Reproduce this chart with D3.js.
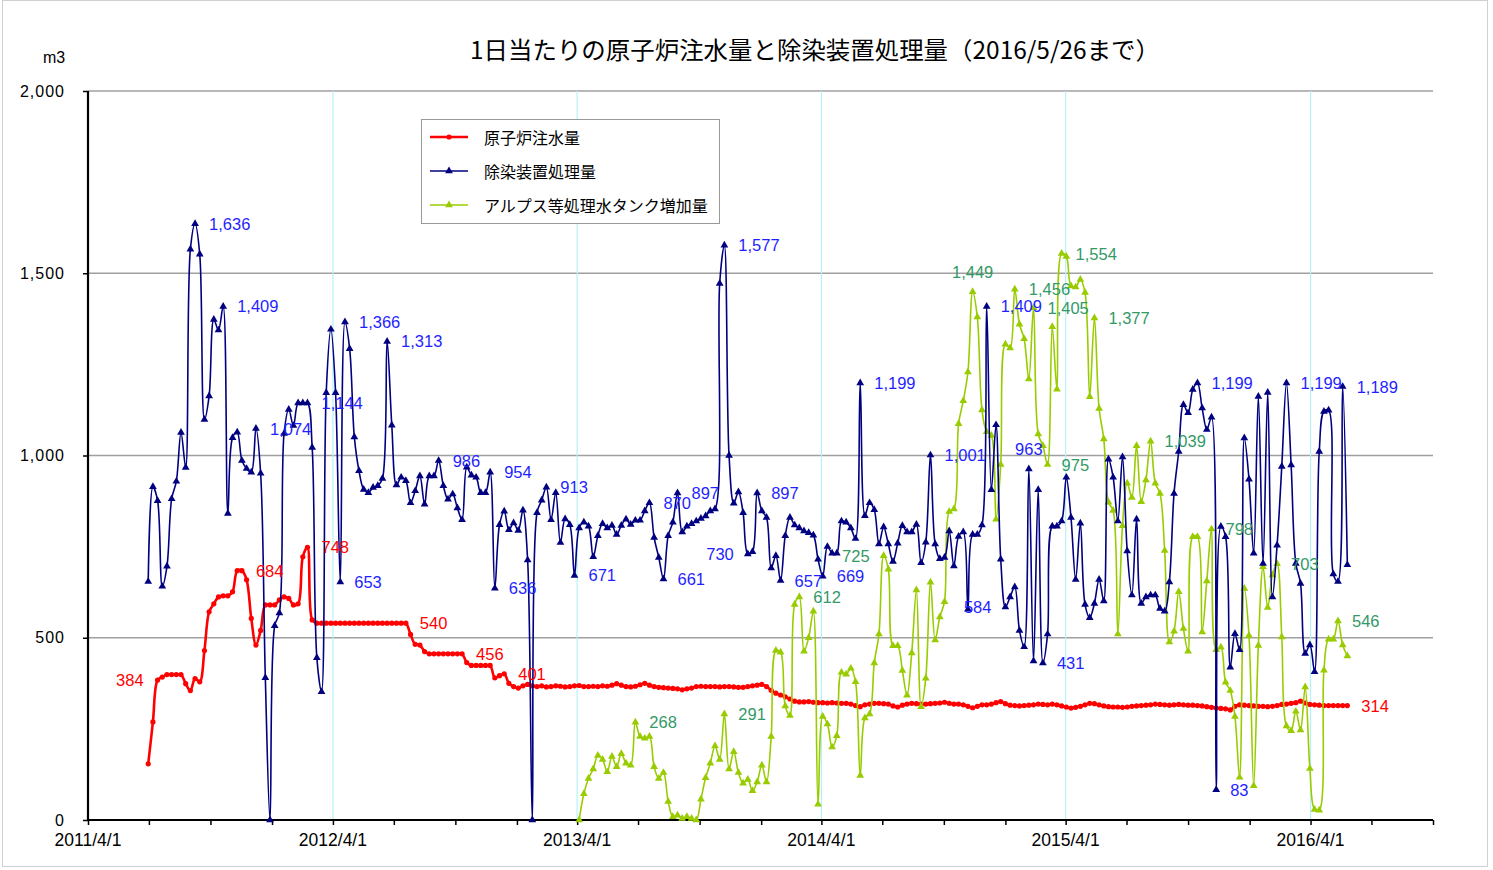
<!DOCTYPE html>
<html><head><meta charset="utf-8">
<script src="https://cdn.jsdelivr.net/npm/d3@7"></script>
<style>body{margin:0;background:#fff}svg{display:block}</style>
</head><body><svg id="c" width="1493" height="870"></svg>
<script>
// ---------- data ----------
const titleText = "1日当たりの原子炉注水量と除染装置処理量（2016/5/26まで）";
const unitLabel = "m3";
const seriesNames = ["原子炉注水量", "除染装置処理量", "アルプス等処理水タンク増加量"];
const firstDate = new Date(2011, 5, 30);   // weekly observations from 2011/6/30
const alpsStartIndex = 92;                  // ALPS series starts at week 92 (2013/4)
const yTickValues = [0, 500, 1000, 1500, 2000];
const xYearTicks = ["2011/4/1", "2012/4/1", "2013/4/1", "2014/4/1", "2015/4/1", "2016/4/1"];

const waterInjection = [
154,269,384,392,399,399,399,399,374,355,
388,379,465,571,593,612,615,615,626,684,
684,659,553,480,520,590,590,590,604,612,
608,590,593,722,748,549,540,540,540,540,
540,540,540,540,540,540,540,540,540,540,
540,540,540,540,540,540,509,482,480,462,
456,456,456,456,456,456,456,456,432,424,
424,424,424,424,390,396,401,375,366,362,
368,372,368,366,368,365,366,368,367,365,
366,368,369,366,366,367,366,368,367,370,
374,370,366,365,367,371,375,370,366,364,
363,362,361,360,357,360,362,366,367,366,
366,366,365,366,366,365,364,364,366,368,
370,372,366,356,348,343,338,332,326,324,
324,325,323,322,322,321,322,321,320,320,
318,314,311,316,318,320,320,319,318,313,
310,315,318,320,319,318,318,319,320,321,
323,320,318,318,316,312,308,312,316,316,
318,322,325,319,315,314,313,314,315,316,
318,317,316,318,316,313,310,307,309,312,
316,320,319,316,313,311,310,310,309,310,
312,313,314,315,316,318,317,316,315,316,
317,316,315,315,314,313,311,309,307,306,
305,302,312,316,315,314,313,312,312,311,
312,314,317,318,320,322,326,321,317,316,
315,314,314,314,314,314,314];

const decontamination = [
654,914,876,641,696,881,929,1063,967,1566,
1636,1552,1099,1163,1373,1344,1409,841,1049,1064,
986,964,954,1074,951,390,0,533,568,1060,
1126,1082,1144,1144,1144,1022,445,352,1172,1346,
1172,653,1366,1293,1051,958,907,898,912,917,
937,1313,1083,919,940,931,870,903,944,866,
944,944,986,917,880,894,856,824,968,946,
940,898,898,954,636,810,847,796,815,794,
850,713,0,843,877,913,824,898,761,826,
810,671,801,817,806,722,780,813,801,808,
783,808,825,811,822,822,848,870,775,720,
661,780,817,897,790,806,813,820,827,834,
848,853,1472,1577,1000,869,900,843,730,736,
897,848,830,691,725,657,780,830,809,801,
793,788,781,715,669,750,732,732,820,817,
801,772,1199,835,870,851,757,804,757,709,
759,807,790,790,811,706,762,1001,757,717,
720,793,697,778,790,578,783,783,809,1409,
906,1084,715,584,612,639,520,475,963,436,
906,431,510,806,806,820,940,830,660,814,
591,555,594,660,601,990,940,820,996,738,
617,825,594,612,617,617,580,573,653,896,
1011,1139,1117,1181,1199,1130,1071,1105,83,805,
777,419,511,467,1048,935,732,1162,704,1173,
612,754,970,1199,974,704,649,457,480,407,
1011,1121,1124,675,654,1189,700];

const alpsTankIncrease = [
0,72,114,140,177,166,132,174,146,182,
156,150,268,229,224,229,146,114,130,51,
9,13,4,9,4,0,57,116,156,203,
166,291,140,187,130,101,111,80,104,150,
104,229,465,460,313,287,591,612,463,500,
573,43,284,263,200,231,405,400,416,379,
122,280,291,431,510,725,688,478,478,410,
342,458,631,311,389,652,494,557,599,846,
853,1087,1150,1229,1449,1380,1125,1065,1055,825,
975,1305,1295,1456,1360,1320,1210,1405,1059,1027,
975,1353,1182,1554,1546,1465,1462,1483,1447,1161,
1377,1129,1045,872,849,510,807,924,885,1027,
873,933,1039,924,896,739,488,518,626,525,
463,777,777,516,656,798,467,474,378,355,
284,117,635,506,94,479,695,583,672,703,
502,258,245,298,247,365,141,29,27,411,
496,496,546,480,450];

// data labels: [week index, text, position]
const injectionLabels = [[2,"384","l"],[20,"684","r"],[34,"748","r"],[55,"540","r"],[67,"456","r"],[76,"401","r"],[256,"314","r"]];
const decontaminationLabels = [[10,"1,636","r"],[16,"1,409","r"],[23,"1,074","r"],[34,"1,144","r"],[41,"653","r"],[42,"1,366","r"],[51,"1,313","r"],[62,"986","r"],[73,"954","r"],[74,"636","r"],[85,"913","r"],[91,"671","r"],[107,"870","r"],[110,"661","r"],[113,"897","r"],[123,"1,577","r"],[128,"730","l"],[130,"897","r"],[135,"657","r"],[144,"669","r"],[152,"1,199","r"],[167,"1,001","r"],[179,"1,409","r"],[183,"584","l"],[188,"963","t"],[191,"431","r"],[224,"1,199","r"],[228,"83","r"],[243,"1,199","r"],[255,"1,189","r"]];
const alpsLabels = [[104,"268","r"],[123,"291","r"],[139,"612","r"],[157,"725","l"],[176,"1,449","t"],[185,"1,456","r"],[189,"1,405","r"],[192,"975","r"],[195,"1,554","r"],[202,"1,377","r"],[214,"1,039","r"],[227,"798","r"],[241,"703","r"],[254,"546","r"]];

// ---------- chart ----------
const svg = d3.select("#c");
const parse = d3.timeParse("%Y/%m/%d");
const weekDate = i => d3.timeDay.offset(firstDate, 7 * i);
const x = d3.scaleTime().domain([parse("2011/04/01"), parse("2016/10/01")]).range([88, 1433]);
const y = d3.scaleLinear().domain([0, 2000]).range([820, 91]);
const fmt = d3.format(",");

const colors = {red: "#ff0000", blue: "#000080", green: "#99cc00"};
const labelColors = {red: "#ff0000", blue: "#1f1fff", green: "#339966"};

svg.append("rect").attr("x", 2.5).attr("y", 0.5).attr("width", 1485).attr("height", 866)
  .attr("fill", "#fff").attr("stroke", "#d0d0d0");

// horizontal gridlines
svg.append("g").selectAll("line").data(yTickValues.filter(v => v > 0)).join("line")
  .attr("x1", 88).attr("x2", 1433).attr("y1", d => y(d)).attr("y2", d => y(d))
  .attr("stroke", "#a0a0a0").attr("stroke-width", 1.4);

// vertical yearly gridlines
const yearDates = xYearTicks.map(s => d3.timeParse("%Y/%-m/%-d")(s));
svg.append("g").selectAll("line").data(yearDates.slice(1)).join("line")
  .attr("x1", d => x(d)).attr("x2", d => x(d)).attr("y1", 91).attr("y2", 820)
  .attr("stroke", "#b4f2f8").attr("stroke-width", 1.2);

// axes
const xAxis = d3.axisBottom(x).tickValues(d3.timeMonth.range(parse("2011/04/01"), parse("2016/10/02"), 3))
  .tickSize(5).tickFormat("");
const gx = svg.append("g").attr("transform", "translate(0,820)").call(xAxis);
gx.select(".domain").attr("stroke", "#000").attr("stroke-width", 2.2).attr("d", "M88,0H1433");
gx.selectAll(".tick line").attr("stroke", "#000").attr("stroke-width", 1.5);

const yAxis = d3.axisLeft(y).tickValues(yTickValues).tickSize(5).tickFormat("");
const gy = svg.append("g").attr("transform", "translate(88,0)").call(yAxis);
gy.select(".domain").attr("stroke", "#000").attr("stroke-width", 2.2).attr("d", "M0,91V820");
gy.selectAll(".tick line").attr("stroke", "#000").attr("stroke-width", 1.5);

svg.append("g").selectAll("text").data(yTickValues).join("text")
  .attr("x", 65).attr("y", d => y(d)).attr("text-anchor", "end").attr("dominant-baseline", "central")
  .attr("font-family", "Liberation Sans, Arial, sans-serif").attr("font-size", 16).attr("letter-spacing", 1)
  .attr("fill", "#000").text(d => fmt(d));

svg.append("g").selectAll("text").data(xYearTicks).join("text")
  .attr("x", (d, i) => x(yearDates[i])).attr("y", 840).attr("text-anchor", "middle")
  .attr("dominant-baseline", "central")
  .attr("font-family", "Liberation Sans, Arial, sans-serif").attr("font-size", 17.5)
  .attr("fill", "#000").text(d => d);

svg.append("text").attr("x", 43).attr("y", 57).attr("dominant-baseline", "central")
  .attr("font-family", "Liberation Sans, Arial, sans-serif").attr("font-size", 16).text(unitLabel);

svg.append("text").attr("x", 470).attr("y", 48).attr("dominant-baseline", "central")
  .attr("font-family", "Noto Sans CJK JP, sans-serif").attr("font-size", 24)
  .attr("textLength", 690).attr("lengthAdjust", "spacingAndGlyphs").text(titleText);

// series
function build(values, offset) {
  return values.map((v, i) => ({date: weekDate(i + offset), v, k: i + offset}));
}
const redData = build(waterInjection, 0);
const blueData = build(decontamination, 0);
const greenData = build(alpsTankIncrease, alpsStartIndex);

const line = d3.line().x(d => x(d.date)).y(d => y(d.v)).curve(d3.curveCatmullRom.alpha(0.5));
const tri = d3.symbol(d3.symbolTriangle, 26);

function drawSeries(data, color, width, marker) {
  const g = svg.append("g");
  g.append("path").datum(data).attr("d", line).attr("fill", "none")
    .attr("stroke", color).attr("stroke-width", width).attr("stroke-linejoin", "round");
  if (marker === "circle") {
    g.selectAll("circle").data(data).join("circle")
      .attr("cx", d => x(d.date)).attr("cy", d => y(d.v)).attr("r", 2.6).attr("fill", color);
  } else {
    g.selectAll("path.m").data(data).join("path").attr("class", "m")
      .attr("transform", d => `translate(${x(d.date)},${y(d.v)})`).attr("d", tri).attr("fill", color);
  }
}
drawSeries(redData, colors.red, 2.6, "circle");
drawSeries(greenData, colors.green, 1.6, "tri");
drawSeries(blueData, colors.blue, 1.6, "tri");

function drawLabels(data, offset, labels, color) {
  svg.append("g").selectAll("text").data(labels).join("text")
    .each(function(l) {
      const d = data[l[0] - offset];
      const px = x(d.date), py = y(d.v);
      const t = d3.select(this);
      if (l[2] === "r") t.attr("x", px + 14).attr("y", py).attr("text-anchor", "start");
      else if (l[2] === "l") t.attr("x", px - 14).attr("y", py).attr("text-anchor", "end");
      else t.attr("x", px).attr("y", py - 20).attr("text-anchor", "middle");
    })
    .attr("dominant-baseline", "central")
    .attr("font-family", "Liberation Sans, Arial, sans-serif").attr("font-size", 16.5)
    .attr("fill", color).text(l => l[1]);
}
drawLabels(redData, 0, injectionLabels, labelColors.red);
drawLabels(blueData, 0, decontaminationLabels, labelColors.blue);
drawLabels(greenData, alpsStartIndex, alpsLabels, labelColors.green);

// legend
const lg = svg.append("g");
lg.append("rect").attr("x", 421.5).attr("y", 119.5).attr("width", 298).attr("height", 104)
  .attr("fill", "#fff").attr("stroke", "#999").attr("stroke-width", 1);
const legendItems = [
  {name: seriesNames[0], color: colors.red, marker: "circle", w: 2.6},
  {name: seriesNames[1], color: colors.blue, marker: "tri", w: 1.6},
  {name: seriesNames[2], color: colors.green, marker: "tri", w: 1.6}
];
legendItems.forEach((it, i) => {
  const cy = 137 + i * 34;
  lg.append("line").attr("x1", 430).attr("x2", 468).attr("y1", cy).attr("y2", cy)
    .attr("stroke", it.color).attr("stroke-width", it.w);
  if (it.marker === "circle") lg.append("circle").attr("cx", 449).attr("cy", cy).attr("r", 2.6).attr("fill", it.color);
  else lg.append("path").attr("transform", `translate(449,${cy})`).attr("d", tri).attr("fill", it.color);
  lg.append("text").attr("x", 484).attr("y", cy).attr("dominant-baseline", "central")
    .attr("font-family", "Noto Sans CJK JP, sans-serif").attr("font-size", 16).attr("fill", "#000").text(it.name);
});
</script></body></html>
